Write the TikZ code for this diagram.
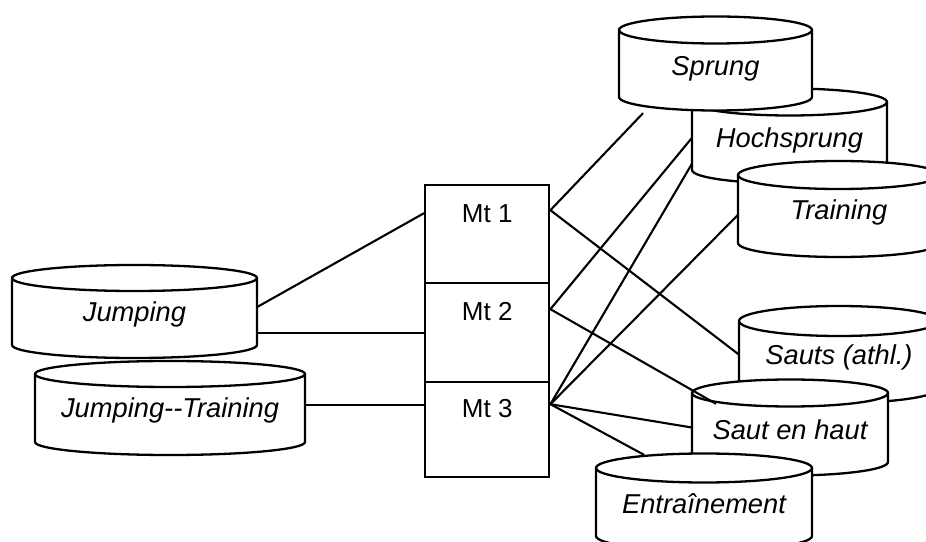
\documentclass[tikz,border=0pt]{standalone}
\usepackage{fontspec}
\setmainfont{Liberation Sans}
\tikzset{
  cylfill/.style={fill=white, draw=black, line width=2.3pt, line join=round},
  cylline/.style={draw=black, line width=2.3pt},
  cyltext/.style={inner sep=0pt, font=\fontsize{27.3}{31}\selectfont\itshape},
  mtbox/.style={draw=black, line width=2.4pt, fill=white, inner sep=0pt, minimum width=124pt,
    font=\fontsize{26}{30}\selectfont, anchor=north west},
  conn/.style={draw=black, line width=2.1pt}
}
% #1 xl, #2 xr, #3 Ytop, #4 Ybot, #5 ry, #6 name, #7 text shift, #8 text
\newcommand{\mycyl}[8]{%
  \pgfmathsetmacro{\cylrx}{(#2-#1)/2}%
  \pgfmathsetmacro{\cylcx}{(#1+#2)/2}%
  \pgfmathsetmacro{\cylcy}{(#3+#4)/2}%
  \pgfmathsetmacro{\cylh}{#3-#4}%
  \path[cylfill] (#1,#3) -- (#1,#4) arc[start angle=180,end angle=360,x radius=\cylrx,y radius=#5]
     -- (#2,#3) arc[start angle=0,end angle=180,x radius=\cylrx,y radius=#5] -- cycle;
  \draw[cylline] (#1,#3) arc[start angle=180,end angle=360,x radius=\cylrx,y radius=#5];
  \node[cyltext, minimum width=2*\cylrx pt, minimum height=\cylh pt] (#6) at (\cylcx,\cylcy) {};
  \node[cyltext] at ([yshift=#7]#6.center) {#8};
}
\begin{document}
\begin{tikzpicture}[x=1pt,y=1pt]
\useasboundingbox (0,0) rectangle (926,541);
\clip (0,0) rectangle (926,541);
\fill[white] (0,0) rectangle (926,541);

% left cylinders
\mycyl{12}{257}{263}{196}{13}{jump}{-3pt}{Jumping}
\mycyl{35}{305}{167}{99}{13}{jt}{-2pt}{Jumping-\kern0pt-Training}

% right cylinders
\mycyl{692}{887}{439}{371}{13.5}{hoch}{-4pt}{Hochsprung}
\mycyl{619}{812}{511}{444}{13.5}{sprung}{-5pt}{Sprung}
\mycyl{738}{940}{366}{298}{14}{train}{-3pt}{Training}
\mycyl{739}{939}{220}{153}{15}{sauts}{-3pt}{Sauts (athl.)}
\mycyl{692}{888}{148}{79}{13.5}{sauth}{-2pt}{Saut en haut}
\mycyl{596}{812}{73}{5}{14.5}{entr}{-2pt}{Entraînement}

% Mt boxes
\node[mtbox, text height=37pt, text depth=61pt] (Mt1) at (424,357) {Mt 1};
\node[mtbox, text height=37pt, text depth=62pt] (Mt2) at (424,259) {Mt 2};
\node[mtbox, text height=35pt, text depth=60pt] (Mt3) at (424,160) {Mt 3};

% ports on the right side of the Mt boxes
\coordinate (p1) at ([yshift=24pt]Mt1.east);
\coordinate (p2) at ([yshift=23.5pt]Mt2.east);
\coordinate (p3) at ([yshift=25.5pt]Mt3.east);

% left connectors
\draw[conn] ([yshift=4.5pt]jump.east) -- ([yshift=21pt]Mt1.west);
\draw[conn] ([yshift=-21.5pt]jump.east) -- ([yshift=-21.5pt]jump.east -| Mt2.west);
\draw[conn] ([yshift=3pt]jt.east) -- ([yshift=3pt]jt.east -| Mt3.west);

% right connectors
\draw[conn] (p1) -- ([xshift=-72.5pt,yshift=-16pt]sprung.south);
\draw[conn] (p1) -- (sauts.west);
\draw[conn] (p2) -- ([yshift=-2pt]hoch.west);
\draw[conn] (p2) -- ([xshift=-74pt,yshift=-11pt]sauth.north);
\draw[conn] (p3) -- ([yshift=-28pt]hoch.west);
\draw[conn] (p3) -- ([yshift=-6pt]train.west);
\draw[conn] (p3) -- (sauth.west);
\draw[conn] (p3) -- ([xshift=-60pt,yshift=13pt]entr.north);
\end{tikzpicture}
\end{document}
